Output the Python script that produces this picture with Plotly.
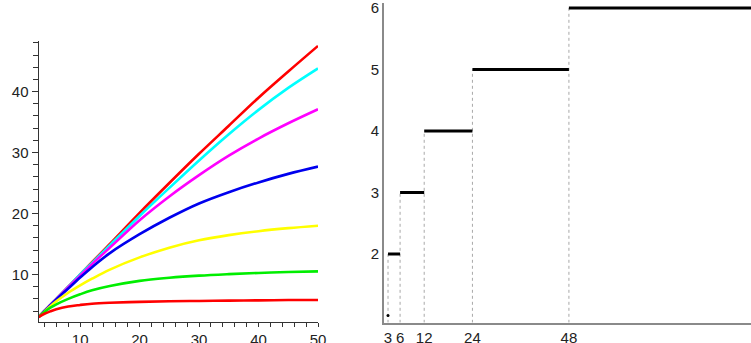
import plotly.graph_objects as go

# ---- left panel data ----
x_vals = [3, 4, 5, 6, 8, 10, 12, 15, 20, 25, 30, 35, 40, 45, 50]
red_top = [3, 4, 5, 6, 8, 10, 12, 15, 20.1, 25, 29.8, 34.4, 39.0, 43.3, 47.5]
cyan = [3, 4, 5, 6, 8, 10, 11.9, 14.8, 19.6, 24.2, 28.7, 33.0, 37.0, 40.6, 43.8]
magenta = [3, 4, 5, 5.95, 7.9, 9.8, 11.7, 14.4, 18.9, 22.8, 26.3, 29.5, 32.3, 34.8, 37.1]
blue = [3, 4, 4.95, 5.9, 7.7, 9.5, 11.2, 13.5, 16.6, 19.3, 21.65, 23.5, 25.1, 26.5, 27.7]
yellow = [3, 3.9, 4.8, 5.6, 7.0, 8.2, 9.3, 10.8, 12.8, 14.4, 15.6, 16.45, 17.1, 17.6, 18.0]
green = [3, 3.85, 4.55, 5.1, 6.0, 6.75, 7.4, 8.1, 8.95, 9.45, 9.8, 10.05, 10.25, 10.4, 10.5]
red_low = [3, 3.55, 3.95, 4.3, 4.75, 5.0, 5.2, 5.35, 5.5, 5.6, 5.65, 5.7, 5.75, 5.8, 5.8]
left_series = [red_top, cyan, magenta, blue, yellow, green, red_low]
left_colors = ["#ff0000", "#00ffff", "#ff00ff", "#0000ee", "#ffff00", "#00ee00", "#ff0000"]
left_xticks = [10, 20, 30, 40, 50]
left_yticks = [10, 20, 30, 40]

# ---- right panel data ----
step_levels = [2, 3, 4, 5, 6]
step_starts = [3, 6, 12, 24, 48]
step_ends = [6, 12, 24, 48, 96]
point_x = [3]
point_y = [1]
right_xticks = [3, 6, 12, 24, 48]
right_yticks = [2, 3, 4, 5, 6]

FONT = "Liberation Sans"
W, H = 751, 343

fig = go.Figure()

for ys, col in zip(left_series, left_colors):
    fig.add_trace(go.Scatter(x=x_vals, y=ys, mode="lines", line=dict(color=col, width=2.6, shape="spline"),
                             xaxis="x", yaxis="y", showlegend=False, hoverinfo="skip"))

Y2MIN = 0.886
# dotted verticals
for s, lv in zip(step_starts, step_levels):
    fig.add_trace(go.Scatter(x=[s, s], y=[Y2MIN - 0.2, lv], mode="lines",
                             line=dict(color="#a8a8a8", width=1, dash="dot"),
                             xaxis="x2", yaxis="y2", showlegend=False, hoverinfo="skip"))
# steps
for s, e, lv in zip(step_starts, step_ends, step_levels):
    fig.add_trace(go.Scatter(x=[s, e], y=[lv, lv], mode="lines",
                             line=dict(color="#000000", width=3),
                             xaxis="x2", yaxis="y2", showlegend=False, hoverinfo="skip"))
fig.add_trace(go.Scatter(x=point_x, y=point_y, mode="markers", marker=dict(color="#000", size=3),
                         xaxis="x2", yaxis="y2", showlegend=False, hoverinfo="skip"))

tickfont = dict(family=FONT, size=15, color="#222")
common = dict(automargin=False, showgrid=False, zeroline=False, ticklabeloverflow="allow")

fig.update_layout(
    template="none",
    width=W, height=H,
    margin=dict(l=0, r=0, t=0, b=0, pad=0),
    paper_bgcolor="white", plot_bgcolor="white",
    xaxis=dict(domain=[38.5 / W, 318 / W], range=[3, 50], anchor="y",
               showline=True, linecolor="#333", linewidth=1,
               tickvals=left_xticks, ticks="outside", ticklen=4, tickcolor="#333", tickwidth=1,
               minor=dict(dtick=2, tick0=0, ticks="outside", ticklen=4, tickcolor="#333", tickwidth=1, showgrid=False),
               tickfont=tickfont, **common),
    yaxis=dict(domain=[21 / H, 302 / H], range=[2.2, 48.3], anchor="x",
               showline=True, linecolor="#333", linewidth=1,
               tickvals=left_yticks, ticks="outside", ticklen=6, tickcolor="#333", tickwidth=1,
               minor=dict(dtick=2, tick0=0, ticks="outside", ticklen=5, tickcolor="#333", tickwidth=1, showgrid=False),
               tickfont=tickfont, **common),
    xaxis2=dict(domain=[384 / W, 1.0], range=[2, 93.3], anchor="y2",
                showline=True, linecolor="#8a8a8a", linewidth=2,
                tickvals=right_xticks, ticks="", tickfont=tickfont, **common),
    yaxis2=dict(domain=[20.5 / H, 340 / H], range=[Y2MIN, 6.08], anchor="x2",
                showline=True, linecolor="#8a8a8a", linewidth=2,
                tickvals=right_yticks, ticks="", tickfont=tickfont, **common),
)

fig.write_html("out.html")
